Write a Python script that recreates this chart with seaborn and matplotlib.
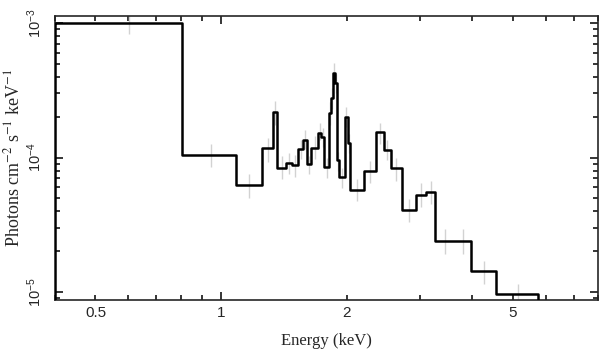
import numpy as np
import pandas as pd
import seaborn as sns
import matplotlib
matplotlib.use("Agg")
import matplotlib.pyplot as plt
from matplotlib.ticker import LogLocator, FuncFormatter, NullFormatter

# bin edges in keV
edges = [0.400, 0.805, 1.083, 1.256, 1.332, 1.365, 1.429, 1.477, 1.532, 1.570,
         1.606, 1.646, 1.710, 1.739, 1.769, 1.818, 1.836, 1.851, 1.872, 1.892,
         1.921, 1.984, 2.011, 2.042, 2.194, 2.353, 2.450, 2.553, 2.706, 2.935,
         3.102, 3.261, 3.629, 3.961, 4.558, 5.747]

# unfolded flux per bin (photons cm^-2 s^-1 keV^-1)
flux = [1.01e-3, 1.05e-4, 6.26e-5, 1.17e-4, 2.19e-4, 8.32e-5, 9.13e-5, 8.83e-5,
        1.15e-4, 1.36e-4, 9.02e-5, 1.17e-4, 1.51e-4, 1.41e-4, 8.50e-5, 2.15e-4,
        2.78e-4, 4.29e-4, 3.61e-4, 9.50e-5, 7.19e-5, 2.01e-4, 1.28e-4, 5.75e-5,
        8.00e-5, 1.54e-4, 1.14e-4, 8.38e-5, 4.10e-5, 5.28e-5, 5.56e-5, 2.39e-5,
        2.39e-5, 1.42e-5, 9.64e-6]

# error bar ends
err_hi = [1.15e-3, 1.27e-4, 7.6e-5, 1.40e-4, 2.62e-4, 1.02e-4, 1.08e-4, 1.05e-4,
          1.36e-4, 1.61e-4, 1.02e-4, 1.44e-4, 1.82e-4, 1.67e-4, 1.0e-4, 2.6e-4,
          3.3e-4, 5.05e-4, 4.2e-4, 1.1e-4, 8.3e-5, 2.36e-4, 1.5e-4, 6.87e-5,
          9.4e-5, 1.81e-4, 1.36e-4, 1.0e-4, 4.9e-5, 6.5e-5, 6.68e-5, 2.92e-5,
          2.92e-5, 1.69e-5, 1.14e-5]
err_lo = [8.3e-4, 8.5e-5, 5.0e-5, 9.3e-5, 1.75e-4, 6.86e-5, 7.5e-5, 7.1e-5,
          9.7e-5, 1.15e-4, 7.5e-5, 9.7e-5, 1.36e-4, 1.2e-4, 7.0e-5, 1.75e-4,
          2.3e-4, 3.6e-4, 3.0e-4, 8.0e-5, 5.9e-5, 1.7e-4, 1.08e-4, 4.73e-5,
          6.5e-5, 1.25e-4, 9.5e-5, 6.7e-5, 3.3e-5, 4.25e-5, 4.48e-5, 1.90e-5,
          1.90e-5, 1.14e-5, 8.5e-6]

xtick_vals = [0.5, 1, 2, 5]
xtick_labels = ["0.5", "1", "2", "5"]

sns.set_style("ticks")
plt.rcParams["font.family"] = ["Liberation Sans", "DejaVu Sans"]
plt.rcParams["mathtext.fontset"] = "custom"
plt.rcParams["mathtext.rm"] = "Liberation Sans"
plt.rcParams["mathtext.it"] = "Liberation Sans:italic"
plt.rcParams["mathtext.bf"] = "Liberation Sans:bold"
plt.rcParams["axes.linewidth"] = 1.2

centers = [(a + b) / 2 for a, b in zip(edges[:-1], edges[1:])]
df = pd.DataFrame({"energy": centers, "flux": flux, "lo": err_lo, "hi": err_hi})

fig = plt.figure(figsize=(6.08, 3.62), dpi=100)
ax = fig.add_axes([55 / 608, 62 / 362, 543 / 608, 284 / 362])

# data errors in light grey, step spectrum on top (outline drops to baseline at the ends)
ax.vlines(df["energy"], df["lo"], df["hi"], color="#d2d2d2", lw=1, zorder=1)
sns.histplot(data=df, x="energy", weights="flux", bins=edges, element="step",
             fill=True, color="black", linewidth=1.8, alpha=1, ax=ax, zorder=3)
hist = ax.collections[-1]
hist.set_facecolor("none")
hist.set_edgecolor("black")

ax.set_xscale("log")
ax.set_yscale("log")
ax.set_xlim(0.4, 8.0)
ax.set_ylim(8.7e-6, 1.13e-3)


def xfmt(v, pos):
    for val, lab in zip(xtick_vals, xtick_labels):
        if abs(v - val) < 1e-6 * val:
            return lab
    return ""


ax.xaxis.set_major_locator(LogLocator(base=10, subs=(1.0,)))
ax.xaxis.set_minor_locator(LogLocator(base=10, subs=np.arange(2, 10)))
ax.xaxis.set_major_formatter(FuncFormatter(xfmt))
ax.xaxis.set_minor_formatter(FuncFormatter(xfmt))

ax.yaxis.set_major_locator(LogLocator(base=10, subs=(1.0,)))
ax.yaxis.set_minor_locator(LogLocator(base=10, subs=np.arange(2, 10)))
ax.yaxis.set_major_formatter(FuncFormatter(lambda v, p: "$10^{%d}$" % round(np.log10(v))))
ax.yaxis.set_minor_formatter(NullFormatter())

ax.tick_params(which="both", direction="in", top=True, right=True, width=1.1, color="black")
ax.tick_params(which="major", length=6)
ax.tick_params(which="minor", length=3.3)
ax.tick_params(axis="x", which="both", labelsize=11, pad=4)
ax.tick_params(axis="y", which="major", labelsize=10.5, pad=8, labelrotation=90)
for lab in ax.get_yticklabels():
    lab.set_va("center")

ax.set_xlabel("Energy (keV)", fontfamily="Liberation Serif", fontsize=12, labelpad=10)
ax.set_ylabel(r"Photons cm$^{-2}$ s$^{-1}$ keV$^{-1}$", fontfamily="Liberation Serif",
              fontsize=13, math_fontfamily="stix", labelpad=1)

fig.savefig("out.png", dpi=100)
